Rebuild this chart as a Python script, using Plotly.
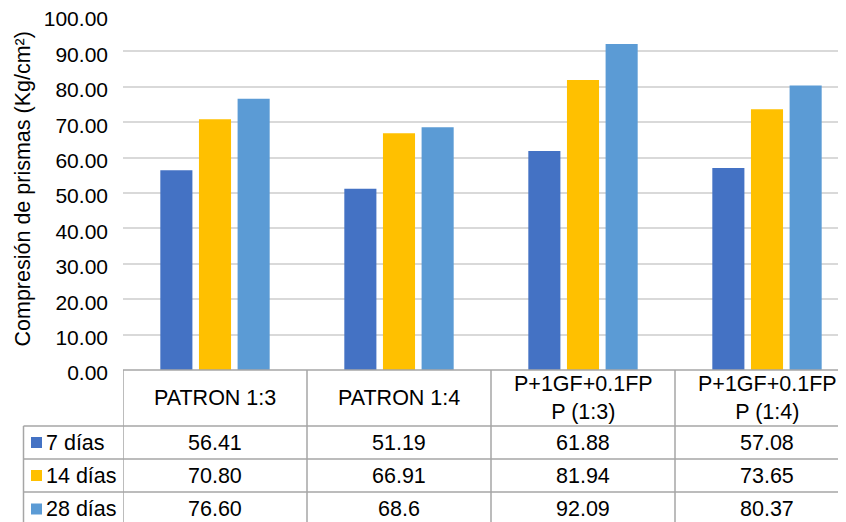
import plotly.graph_objects as go

categories = ["PATRON 1:3", "PATRON 1:4", "P+1GF+0.1FP<br>P (1:3)", "P+1GF+0.1FP<br>P (1:4)"]
series_names = ["7 días", "14 días", "28 días"]
vals_7 = [56.41, 51.19, 61.88, 57.08]
vals_14 = [70.80, 66.91, 81.94, 73.65]
vals_28 = [76.60, 68.6, 92.09, 80.37]
table_text_7 = ["56.41", "51.19", "61.88", "57.08"]
table_text_14 = ["70.80", "66.91", "81.94", "73.65"]
table_text_28 = ["76.60", "68.6", "92.09", "80.37"]
y_ticks = [0, 10, 20, 30, 40, 50, 60, 70, 80, 90, 100]
y_title = "Compresión de prismas (Kg/cm²)"

colors = ["#4472C4", "#FFC000", "#5B9BD5"]
OFF = 8  # page body margin
W, H = 846 - OFF, 522 - OFF
PL, PT, PB = 123, 16, 370
L = PL - OFF
T = PT - OFF
B = H - (PB - OFF)
plot_w = W - L
plot_h = H - T - B
cat_px = 184.0
FONT = "Liberation Sans, Arial, sans-serif"
FS = 21.5
LINE = "#A6A6A6"


def px(xpage):
    return (xpage - PL) / plot_w


def py(ypage):
    return (PB - ypage) / plot_h


fig = go.Figure()
xs = list(range(len(categories)))
for name, vals, col in zip(series_names, [vals_7, vals_14, vals_28], colors):
    fig.add_trace(go.Bar(x=xs, y=vals, name=name, marker=dict(color=col, line=dict(width=0))))

shapes = []
annotations = []
rows = [PB, 426, 459, 492, 540]
bounds = [-0.5 + i for i in range(len(categories) + 1)]
shapes.append(dict(type="line", xref="paper", yref="paper", x0=0, x1=1.05, y0=py(rows[0]), y1=py(rows[0]),
                   line=dict(color=LINE, width=1.5)))
for r in rows[1:4]:
    shapes.append(dict(type="line", xref="paper", yref="paper", x0=px(23.5), x1=1.05, y0=py(r), y1=py(r),
                       line=dict(color=LINE, width=1.5)))
for b in bounds:
    shapes.append(dict(type="line", xref="x", yref="paper", x0=b, x1=b, y0=py(rows[0]), y1=py(rows[-1]),
                       line=dict(color=LINE, width=1.5)))
shapes.append(dict(type="line", xref="paper", yref="paper", x0=px(23.5), x1=px(23.5), y0=py(rows[1]),
                   y1=py(rows[-1]), line=dict(color=LINE, width=1.5)))

for i, c in enumerate(categories):
    annotations.append(dict(x=i, y=py((rows[0] + rows[1]) / 2), xref="x", yref="paper", text=c,
                            showarrow=False, font=dict(family=FONT, size=FS, color="#000"),
                            xanchor="center", yanchor="middle"))
row_centers = [442.5, 475.5, 509]
for ri, (name, texts, col) in enumerate(zip(series_names, [table_text_7, table_text_14, table_text_28], colors)):
    yc = row_centers[ri]
    shapes.append(dict(type="rect", xref="paper", yref="paper", x0=px(31), x1=px(42),
                       y0=py(yc - 5.5), y1=py(yc + 5.5), fillcolor=col, line=dict(width=0)))
    annotations.append(dict(x=px(44), y=py(yc), xref="paper", yref="paper", text=name, showarrow=False,
                            font=dict(family=FONT, size=FS, color="#000"), xanchor="left", yanchor="middle"))
    for i, t in enumerate(texts):
        annotations.append(dict(x=i, y=py(yc), xref="x", yref="paper", text=t, showarrow=False,
                                font=dict(family=FONT, size=FS, color="#000"), xanchor="center", yanchor="middle"))

annotations.append(dict(x=px(23), y=py(189.5), xref="paper", yref="paper", text=y_title,
                        textangle=-90, showarrow=False, font=dict(family=FONT, size=FS, color="#000"),
                        xanchor="center", yanchor="middle"))

fig.update_layout(
    width=W, height=H,
    margin=dict(l=L, r=0, t=T, b=B, pad=0, autoexpand=False),
    paper_bgcolor="white", plot_bgcolor="white",
    showlegend=False,
    barmode="group", bargap=0.37, bargroupgap=0.17,
    font=dict(family=FONT, size=FS, color="#000"),
    xaxis=dict(range=[-0.5, -0.5 + plot_w / cat_px], showticklabels=False, showgrid=False,
               zeroline=False, showline=False, ticks=""),
    yaxis=dict(range=[0, 100], tickmode="array", tickvals=y_ticks,
               tickformat=".2f", showgrid=True, gridcolor="#D9D9D9",
               gridwidth=1.5, zeroline=False, showline=False, ticks="", ticklabelstandoff=14,
               ticklabeloverflow="allow", ticklabelshift=3,
               tickfont=dict(family=FONT, size=21, color="#000")),
    shapes=shapes, annotations=annotations,
)

fig.write_html("out.html")
